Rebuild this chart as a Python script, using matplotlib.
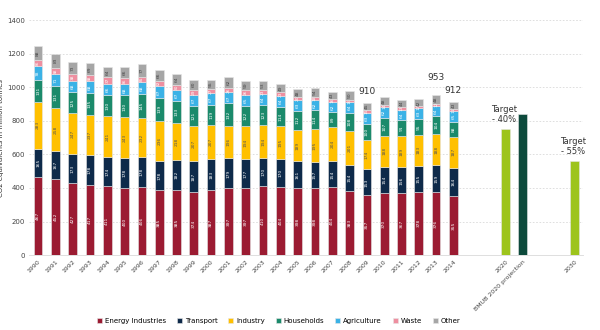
import numpy as np
import matplotlib
matplotlib.use("Agg")
import matplotlib.pyplot as plt

years = [str(y) for y in range(1990, 2015)]

energy = [467, 452, 427, 417, 411, 400, 406, 385, 385, 374, 387, 397, 397,
          410, 404, 398, 398, 404, 383, 357, 370, 367, 378, 376, 355]
transport = [165, 167, 173, 178, 174, 178, 178, 178, 182, 187, 183, 179, 177,
             170, 170, 161, 157, 154, 154, 153, 154, 156, 155, 159, 164]
industry = [283, 258, 247, 237, 241, 243, 232, 236, 218, 207, 207, 196, 194,
            194, 195, 189, 195, 204, 201, 174, 188, 189, 183, 188, 187]
households = [131, 131, 125, 135, 130, 130, 145, 139, 133, 121, 119, 132, 122,
              123, 114, 112, 114, 89, 108, 100, 107, 91, 95, 104, 88]
agriculture = [78, 71, 68, 68, 66, 68, 68, 67, 67, 67, 67, 67, 65,
               64, 64, 63, 62, 62, 64, 63, 62, 64, 63, 64, 65]
waste = [36, 38, 38, 38, 37, 36, 35, 32, 30, 29, 27, 26, 26,
         23, 23, 20, 18, 16, 16, 15, 14, 13, 12, 12, 11]
other = [88, 83, 73, 69, 64, 66, 77, 66, 64, 60, 55, 62, 59,
         53, 49, 48, 54, 43, 50, 45, 48, 44, 42, 48, 43]

sectors = ["Energy Industries", "Transport", "Industry", "Households",
           "Agriculture", "Waste", "Other"]
series = [energy, transport, industry, households, agriculture, waste, other]
colors = ["#9B1B32", "#0E2A4A", "#FFC000", "#1B8A6B", "#3BB2E6", "#EE8FA0", "#A6A6A6"]
label_colors = ["white", "white", "#555555", "white", "white", "white", "#444444"]

# highlighted totals
total_labels = {"2009": "910", "2013": "953", "2014": "912"}

# target bars
target_cats = ["2020", "BMUB 2020 projection", "2030"]
target_vals = [750, 840, 562]
target_colors = ["#9DC41C", "#0D4A3C", "#9DC41C"]
target_text = {"2020": "Target\n- 40%", "2030": "Target\n- 55%"}

# category slots (empty slots keep the gaps)
cats = years + ["", ""] + target_cats[:2] + ["", ""] + target_cats[2:]
pos = {c: i for i, c in enumerate(cats) if c}

fig = plt.figure(figsize=(6, 3.3), dpi=100)
ax = fig.add_axes([0.049, 0.227, 0.923, 0.712])

x = np.array([pos[y] for y in years])
w = 0.5
bottom = np.zeros(len(years))
for name, vals, col, lc in zip(sectors, series, colors, label_colors):
    vals = np.array(vals)
    ax.bar(x, vals, w, bottom=bottom, color=col, edgecolor="#e6e6e6",
           linewidth=0.4, label=name, zorder=3)
    for xi, b, v in zip(x, bottom, vals):
        ax.text(xi, b + v / 2, str(v), rotation=90, ha="center", va="center",
                fontsize=3.2, color=lc, zorder=4)
    bottom += vals

for yr, txt in total_labels.items():
    i = years.index(yr)
    ax.text(pos[yr], bottom[i] + 40 + (40 if yr == "2013" else 0), txt,
            ha="center", va="bottom", fontsize=6.5, color="#333333")

for c, v, col in zip(target_cats, target_vals, target_colors):
    ax.bar(pos[c], v, w, color=col, edgecolor="#e6e6e6", linewidth=0.4, zorder=3)
    if c in target_text:
        ax.text(pos[c] - 0.1, v + 30, target_text[c], ha="center", va="bottom",
                fontsize=6, color="#333333", linespacing=1.1)

ax.set_xlim(-0.5, len(cats) - 0.5)
ax.set_ylim(0, 1400)
ax.set_yticks(range(0, 1401, 200))
ax.set_xticks(range(len(cats)))
ax.set_xticklabels(cats, rotation=45, ha="right", rotation_mode="anchor", fontsize=4.5)
ax.tick_params(axis="y", labelsize=5, length=0, pad=3, colors="#444444")
ax.tick_params(axis="x", length=0, pad=3, colors="#444444")
ax.grid(axis="y", color="#d9d9d9", linestyle=(0, (2, 2)), linewidth=0.6, zorder=0)
for s in ["top", "right", "left"]:
    ax.spines[s].set_visible(False)
ax.spines["bottom"].set_color("#d9d9d9")
ax.spines["bottom"].set_linewidth(0.6)
ax.set_ylabel("CO2 equivalents in million tonnes", fontsize=5, color="#333333", labelpad=2)

ax.legend(loc="upper center", bbox_to_anchor=(0.45, -0.24), ncol=7, frameon=False,
          fontsize=5, handlelength=0.7, handleheight=0.7, handletextpad=0.4,
          columnspacing=1.6)

fig.savefig("out.png", dpi=100)
